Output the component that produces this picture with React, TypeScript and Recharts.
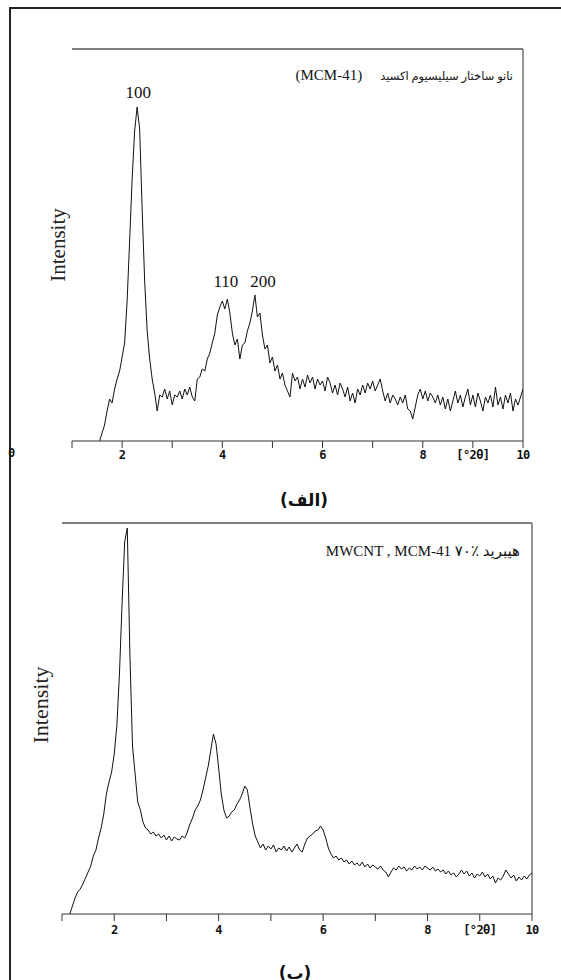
import { LineChart, Line, XAxis, YAxis, ReferenceDot, ReferenceLine } from "recharts";

// 2θ sampling step of both scans
const STEP = 0.05;
const TICKS = [1, 2, 3, 4, 5, 6, 7, 8, 9, 10];
const TICK_LABELS = ["", "2", "", "4", "", "6", "", "8", "[°2θ]", "10"];

// (الف) MCM-41, scan from 1.55°
const TOP_START = 1.55;
const TOP_INTENSITY = [
  0, 8, 16, 30, 42, 38, 52, 62, 70, 84,
  98, 140, 200, 262, 310, 334, 312, 232, 160, 110,
  82, 62, 48, 30, 46, 44, 52, 42, 50, 36,
  46, 44, 50, 42, 52, 46, 54, 44, 40, 62,
  64, 72, 70, 82, 88, 98, 108, 126, 134, 140,
  132, 142, 128, 108, 96, 102, 82, 96, 98, 110,
  118, 130, 146, 124, 128, 106, 92, 96, 78, 84,
  70, 76, 62, 68, 56, 50, 44, 68, 60, 64,
  52, 62, 54, 66, 58, 64, 52, 62, 56, 60,
  50, 64, 58, 48, 56, 46, 58, 52, 44, 54,
  40, 48, 38, 52, 46, 56, 48, 58, 52, 60,
  50, 56, 62, 50, 40, 48, 38, 46, 42, 36,
  44, 38, 46, 32, 30, 22, 34, 46, 52, 42,
  50, 40, 48, 44, 38, 46, 36, 44, 32, 42,
  30, 40, 50, 38, 46, 34, 44, 52, 36, 46,
  34, 48, 40, 30, 44, 38, 46, 34, 54, 36,
  44, 32, 46, 38, 48, 30, 42, 36, 44, 52,
];
const TOP_PEAK_NAMES = ["100", "110", "200"];
const TOP_PEAK_ANGLES = [2.32, 4.07, 4.81];
const TOP_PEAK_LEVELS = [349, 160, 160];
const TOP_TITLE_FA = "نانو ساختار سیلیسیوم اکسید";
const TOP_TITLE_EN = "(MCM-41)";

// (ب) hybrid, scan from 1.15°
const BOTTOM_START = 1.15;
const BOTTOM_INTENSITY = [
  0, 8, 16, 22, 25, 30, 36, 42, 48, 58,
  64, 76, 86, 100, 120, 132, 142, 160, 188, 240,
  310, 372, 386, 260, 168, 140, 112, 104, 92, 86,
  84, 80, 82, 78, 80, 76, 79, 74, 78, 73,
  77, 75, 74, 78, 76, 82, 90, 96, 104, 108,
  114, 124, 136, 148, 164, 180, 170, 146, 120, 104,
  96, 98, 102, 104, 110, 114, 120, 128, 124, 106,
  90, 78, 72, 66, 70, 64, 68, 65, 69, 62,
  66, 64, 68, 63, 67, 62, 66, 70, 64, 62,
  70, 76, 78, 80, 83, 84, 88, 84, 76, 66,
  60, 56, 58, 54, 56, 52, 54, 50, 53, 49,
  51, 48, 52, 47, 50, 46, 49, 47, 45, 48,
  44, 42, 37, 42, 46, 44, 48, 45, 47, 43,
  46, 44, 48, 45, 47, 44, 48, 46, 44, 47,
  43, 45, 42, 44, 40, 43, 39, 41, 37, 40,
  44, 40, 43, 38, 41, 36, 40, 38, 42, 37,
  40, 35, 38, 31, 36, 34, 38, 44, 40, 36,
  39, 33, 37, 34, 38, 35, 39, 41,
];
const BOTTOM_TITLE = "هیبرید ٪۷۰ MWCNT , MCM-41";

type Pt = { angle: number; v: number };

function toPoints(start: number, values: number[]): Pt[] {
  return values.map((v, i) => ({ angle: Number((start + i * STEP).toFixed(2)), v }));
}

const serif = "'Liberation Serif', 'DejaVu Sans', serif";
const mono = "'DejaVu Sans Mono', monospace";

type Margin = { top: number; right: number; bottom: number; left: number };

function XrdChart({
  data,
  margin,
  yMax,
  tickGap,
  peaks,
}: {
  data: Pt[];
  margin: Margin;
  yMax: number;
  tickGap: number;
  peaks?: { name: string; x: number; y: number }[];
}) {
  return (
    <LineChart width={561} height={480} data={data} margin={margin}>
      <XAxis
        dataKey="angle"
        type="number"
        domain={[1, 10]}
        ticks={TICKS}
        interval={0}
        allowDataOverflow
        tickFormatter={(t: number) => TICK_LABELS[TICKS.indexOf(t)] ?? ""}
        tickSize={7}
        tickMargin={tickGap}
        height={30}
        axisLine={{ stroke: "#333", strokeWidth: 1 }}
        tickLine={{ stroke: "#333" }}
        tick={{ fontFamily: mono, fontWeight: 700, fontSize: 12, letterSpacing: -0.6, fill: "#111" }}
      />
      <YAxis
        type="number"
        domain={[0, yMax]}
        allowDataOverflow
        width={0}
        tick={false}
        tickLine={false}
        axisLine={{ stroke: "#333" }}
      />
      <ReferenceLine y={yMax} stroke="#808080" strokeWidth={2} />
      <ReferenceLine x={10} stroke="#707070" strokeWidth={1.5} />
      <Line
        dataKey="v"
        type="linear"
        stroke="#111"
        strokeWidth={1}
        dot={false}
        isAnimationActive={false}
      />
      {(peaks ?? []).map((p) => (
        <ReferenceDot
          key={p.name}
          x={p.x}
          y={p.y}
          r={0}
          fill="none"
          stroke="none"
          label={{
            value: p.name,
            position: "center",
            fill: "#111",
            fontSize: 17,
            fontFamily: serif,
          }}
        />
      ))}
    </LineChart>
  );
}

export default function App() {
  const topData = toPoints(TOP_START, TOP_INTENSITY);
  const bottomData = toPoints(BOTTOM_START, BOTTOM_INTENSITY);
  const topPeaks = TOP_PEAK_NAMES.map((name, i) => ({
    name,
    x: TOP_PEAK_ANGLES[i],
    y: TOP_PEAK_LEVELS[i],
  }));

  return (
    <div
      style={{
        position: "absolute",
        left: 0,
        top: 0,
        width: 561,
        height: 980,
        background: "#fff",
        overflow: "hidden",
      }}
    >
      <div
        style={{
          position: "absolute",
          left: 9,
          top: 7,
          width: 561,
          height: 980,
          borderLeft: "2px solid #222",
          borderTop: "2px solid #222",
        }}
      />
      <div style={{ position: "absolute", left: 0, top: 0 }}>
        <XrdChart
          data={topData}
          margin={{ top: 49, right: 38, bottom: 9, left: 72 }}
          yMax={392}
          tickGap={2}
          peaks={topPeaks}
        />
      </div>
      <div style={{ position: "absolute", left: 0, top: 480 }}>
        <XrdChart
          data={bottomData}
          margin={{ top: 43, right: 29, bottom: 16, left: 62 }}
          yMax={391}
          tickGap={4}
        />
      </div>

      <div
        dir="rtl"
        style={{
          position: "absolute",
          right: 48,
          top: 66,
          fontFamily: serif,
          lineHeight: "18px",
          whiteSpace: "pre",
          color: "#111",
        }}
      >
        <span style={{ fontSize: 11.5 }}>{TOP_TITLE_FA}</span>
        <span style={{ fontSize: 15, marginRight: 18 }}>{TOP_TITLE_EN}</span>
      </div>
      <div
        dir="rtl"
        style={{
          position: "absolute",
          right: 41,
          top: 542,
          fontFamily: serif,
          fontSize: 15,
          lineHeight: "18px",
          whiteSpace: "pre",
          color: "#111",
        }}
      >
        {BOTTOM_TITLE}
      </div>

      {[
        { cx: 58, cy: 245, size: 21 },
        { cx: 41, cy: 705, size: 22 },
      ].map((p, i) => (
        <div
          key={i}
          style={{
            position: "absolute",
            left: p.cx - 60,
            top: p.cy - 12,
            width: 120,
            height: 24,
            lineHeight: "24px",
            textAlign: "center",
            transform: "rotate(-90deg)",
            fontFamily: serif,
            fontSize: p.size,
            color: "#222",
          }}
        >
          Intensity
        </div>
      ))}

      <div
        style={{
          position: "absolute",
          left: 8,
          top: 447,
          fontFamily: mono,
          fontWeight: 700,
          fontSize: 12,
          lineHeight: "13px",
          color: "#111",
        }}
      >
        0
      </div>

      <div
        dir="rtl"
        style={{
          position: "absolute",
          left: 244,
          top: 488,
          width: 120,
          textAlign: "center",
          fontFamily: "'DejaVu Sans', sans-serif",
          fontWeight: 700,
          fontSize: 17,
          lineHeight: "24px",
          color: "#111",
        }}
      >
        (الف)
      </div>
      <div
        dir="rtl"
        style={{
          position: "absolute",
          left: 235,
          top: 961,
          width: 120,
          textAlign: "center",
          fontFamily: "'DejaVu Sans', sans-serif",
          fontWeight: 700,
          fontSize: 17,
          lineHeight: "24px",
          color: "#111",
        }}
      >
        (ب)
      </div>
    </div>
  );
}
